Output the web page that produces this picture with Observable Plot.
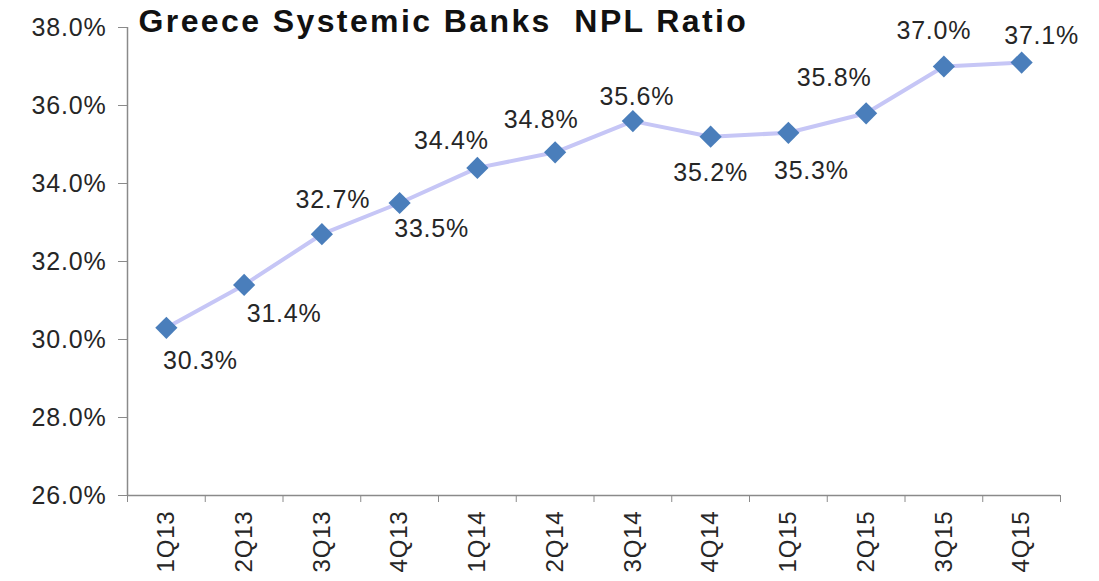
<!DOCTYPE html>
<html><head><meta charset="utf-8">
<script src="https://cdn.jsdelivr.net/npm/d3@7"></script>
<script src="https://cdn.jsdelivr.net/npm/@observablehq/plot@0.6"></script>
<style>
body{margin:0;background:#fff}
svg text{letter-spacing:0.8px}
svg g[font-weight="bold"] text{letter-spacing:2.4px}
</style>
</head><body><div id="chart"></div>
<script>
const quarters = ["1Q13","2Q13","3Q13","4Q13","1Q14","2Q14","3Q14","4Q14","1Q15","2Q15","3Q15","4Q15"];
const nplRatio = [30.3,31.4,32.7,33.5,34.4,34.8,35.6,35.2,35.3,35.8,37.0,37.1];
const yTicks = [26,28,30,32,34,36,38];
const title = "Greece Systemic Banks  NPL Ratio";

// annotation layout for the value labels (pixel offsets from each point)
const labelDx = [34,40,11,32,-26,-14,4,0,23,-32,-10,20];
const labelDy = [33,29,-34,26,-27,-32,-24,36,38,-35,-36,-27];

const data = quarters.map((q, i) => ({i, q, v: nplRatio[i]}));
const n = quarters.length;
const boundaries = d3.range(n + 1).map(i => i - 0.5);
const fmt = v => v.toFixed(1) + "%";
const textColor = "#262626";
const axisColor = "#8a8a8a";

const labelMarks = data.map((d, k) => Plot.text([d], {
  x: "i", y: "v", text: d => fmt(d.v),
  dx: labelDx[k], dy: labelDy[k], fontSize: 25, fill: textColor
}));

const chart = Plot.plot({
  width: 1099, height: 581,
  marginLeft: 127, marginRight: 39, marginTop: 27, marginBottom: 86,
  style: {fontFamily: '"Liberation Sans", Arial, sans-serif', background: "#fff", color: textColor},
  x: {domain: [-0.5, n - 0.5], axis: null},
  y: {domain: [26, 38], axis: null},
  marks: [
    Plot.ruleX([-0.5], {stroke: axisColor, strokeWidth: 1.5}),
    Plot.ruleY([26], {stroke: axisColor, strokeWidth: 1.5}),
    Plot.axisY({ticks: yTicks, tickFormat: fmt, tickSize: 9, tickPadding: 12, fontSize: 25, stroke: axisColor, fill: textColor, label: null}),
    Plot.axisX({ticks: boundaries, tickFormat: () => "", tickSize: 7, stroke: axisColor, label: null}),
    Plot.axisX({ticks: d3.range(n), tickFormat: i => quarters[i], tickSize: 0, tickPadding: 15, tickRotate: -90, fontSize: 24, fill: textColor, label: null}),
    Plot.line(data, {x: "i", y: "v", stroke: "#c6c6f6", strokeWidth: 4}),
    Plot.dot(data, {x: "i", y: "v", symbol: "diamond2", r: 10, fill: "#4a7ebb", stroke: "none"}),
    ...labelMarks,
    Plot.text([title], {frameAnchor: "top-left", text: d => d, dx: 11, dy: -6, lineAnchor: "middle", textAnchor: "start", fontSize: 32, fontWeight: "bold", fill: "#111"})
  ]
});
document.getElementById("chart").appendChild(chart);
</script>
</body></html>
